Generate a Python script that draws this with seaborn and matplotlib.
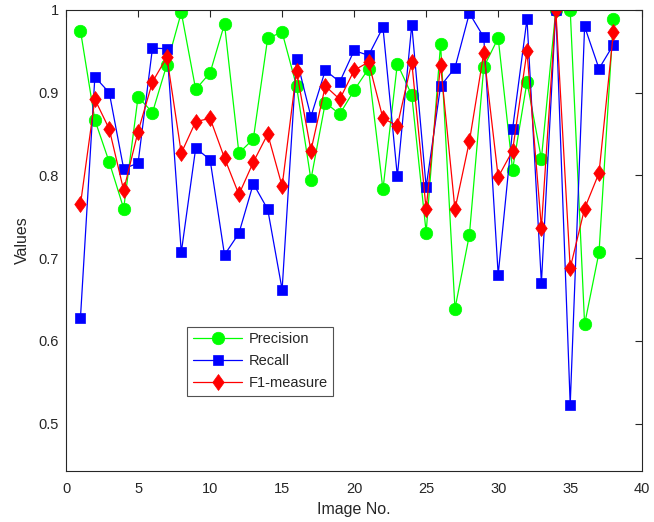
import numpy as np
import pandas as pd
import matplotlib
matplotlib.use("Agg")
import matplotlib.pyplot as plt
from matplotlib.path import Path
import seaborn as sns

image_no = list(range(1, 39))
precision = [0.975, 0.867, 0.816, 0.760, 0.895, 0.876, 0.934, 0.997, 0.904, 0.924,
             0.983, 0.827, 0.844, 0.966, 0.973, 0.908, 0.795, 0.888, 0.874, 0.903,
             0.929, 0.783, 0.935, 0.897, 0.731, 0.959, 0.639, 0.728, 0.931, 0.966,
             0.807, 0.913, 0.820, 1.000, 1.000, 0.620, 0.707, 0.989]
recall = [0.628, 0.919, 0.900, 0.808, 0.815, 0.954, 0.953, 0.707, 0.833, 0.819,
          0.704, 0.730, 0.790, 0.759, 0.662, 0.941, 0.871, 0.927, 0.913, 0.951,
          0.945, 0.979, 0.799, 0.982, 0.786, 0.908, 0.930, 0.996, 0.967, 0.680,
          0.856, 0.989, 0.670, 1.000, 0.523, 0.980, 0.929, 0.958]
f1 = [0.765, 0.892, 0.856, 0.782, 0.853, 0.913, 0.943, 0.827, 0.865, 0.869,
      0.821, 0.777, 0.816, 0.850, 0.787, 0.926, 0.830, 0.908, 0.892, 0.927,
      0.937, 0.869, 0.860, 0.937, 0.759, 0.934, 0.759, 0.841, 0.948, 0.798,
      0.830, 0.950, 0.737, 1.000, 0.688, 0.760, 0.803, 0.973]

series_names = ["Precision", "Recall", "F1-measure"]
x_ticks = [0, 5, 10, 15, 20, 25, 30, 35, 40]
y_ticks = [0.5, 0.6, 0.7, 0.8, 0.9, 1.0]
y_tick_labels = ["0.5", "0.6", "0.7", "0.8", "0.9", "1"]

sns.set_style("white")
plt.rcParams["font.family"] = ["Liberation Sans", "DejaVu Sans"]

fig = plt.figure(figsize=(6.54, 5.22), dpi=100)
ax = fig.add_axes([0.101, 0.098, 0.881, 0.883])

diamond = Path([(0, 1), (0.72, 0), (0, -1), (-0.72, 0), (0, 1)],
               [Path.MOVETO, Path.LINETO, Path.LINETO, Path.LINETO, Path.CLOSEPOLY])

styles = [
    dict(color=(0, 1, 0), marker="o", markersize=9),
    dict(color=(0, 0, 1), marker="s", markersize=7.5),
    dict(color=(1, 0, 0), marker=diamond, markersize=11.5),
]
for name, vals, st in zip(series_names, [precision, recall, f1], styles):
    df = pd.DataFrame({"Image No.": image_no, "Values": vals})
    sns.lineplot(data=df, x="Image No.", y="Values", ax=ax, label=name,
                 color=st["color"], marker=st["marker"], markersize=st["markersize"],
                 markeredgecolor=st["color"], markerfacecolor=st["color"],
                 markeredgewidth=0.5, linewidth=0.9)

ax.set_xlim(0, 40)
ax.set_ylim(0.443, 1.0)
ax.set_xticks(x_ticks)
ax.set_yticks(y_ticks)
ax.set_yticklabels(y_tick_labels)
ax.tick_params(direction="in", length=5, width=0.8, top=True, right=True,
               labelsize=10.5, colors="#262626", pad=8)
ax.tick_params(axis="y", pad=5)
for s in ax.spines.values():
    s.set_color("#262626")
    s.set_linewidth(0.8)
ax.set_xlabel("Image No.", fontsize=11.5, color="#262626", labelpad=4)
ax.set_ylabel("Values", fontsize=11.5, color="#262626", labelpad=6)

leg = ax.legend(loc="upper left", bbox_to_anchor=(0.21, 0.313), frameon=True,
                fancybox=False, edgecolor="#262626", fontsize=10.5,
                handlelength=3.4, borderpad=0.4, labelspacing=0.55,
                handletextpad=0.4, borderaxespad=0)
leg.get_frame().set_linewidth(0.8)

fig.savefig("out.png", dpi=100)
